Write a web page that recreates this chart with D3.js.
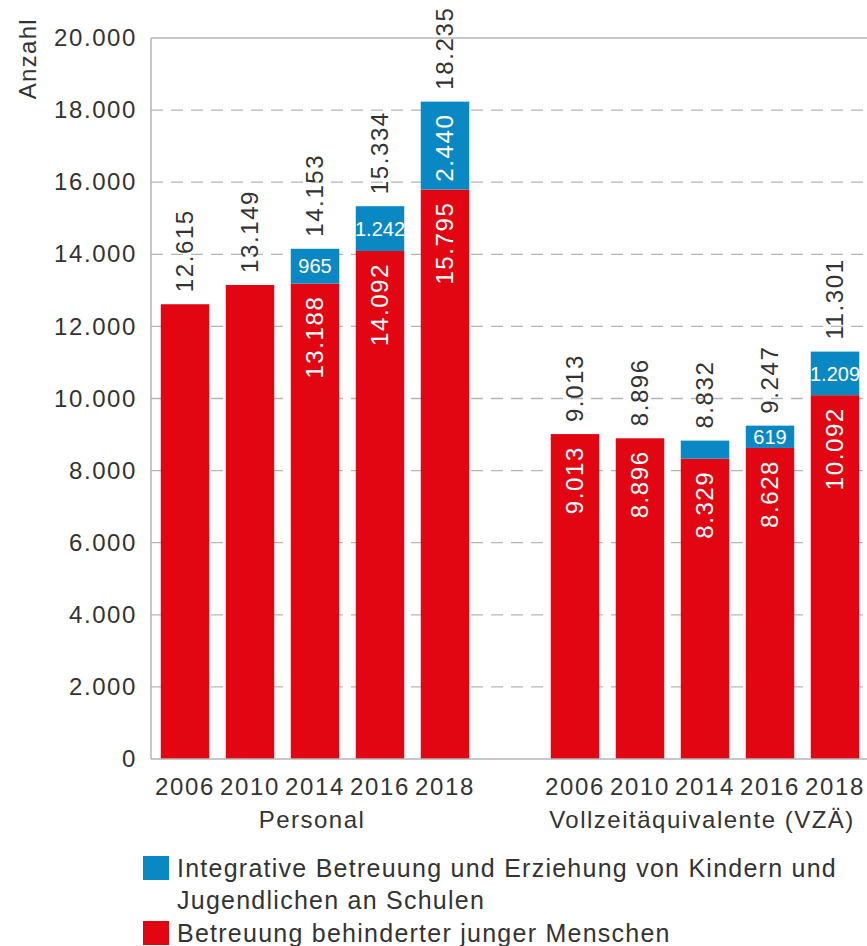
<!DOCTYPE html>
<html><head><meta charset="utf-8">
<script src="https://cdn.jsdelivr.net/npm/d3@7"></script>
<style>
html,body{margin:0;padding:0;background:#fff;}
svg text{font-family:"Liberation Sans",Arial,Helvetica,sans-serif;}
</style></head>
<body>
<svg id="chart" width="867" height="946"></svg>
<script>
// ---- data ----
const groups = ["Personal", "Vollzeitäquivalente (VZÄ)"];
const years = ["2006", "2010", "2014", "2016", "2018"];
const redPersonal = [12615, 13149, 13188, 14092, 15795];
const bluePersonal = [0, 0, 965, 1242, 2440];
const totalPersonal = [12615, 13149, 14153, 15334, 18235];
const redVZA = [9013, 8896, 8329, 8628, 10092];
const blueVZA = [0, 0, 503, 619, 1209];
const totalVZA = [9013, 8896, 8832, 9247, 11301];
const showRedLabelPersonal = [false, false, true, true, true];
const showRedLabelVZA = [true, true, true, true, true];
const showBlueLabelPersonal = [false, false, true, true, true];
const showBlueLabelVZA = [false, false, false, true, true];
const yTicks = [0, 2000, 4000, 6000, 8000, 10000, 12000, 14000, 16000, 18000, 20000];
const seriesNames = ["Integrative Betreuung und Erziehung von Kindern und", "Jugendlichen an Schulen", "Betreuung behinderter junger Menschen"];
const yTitle = "Anzahl";

const RED = "#e20613", BLUE = "#0a88c4", TXT = "#333", GRID = "#b5b5b5";

const de = d3.formatLocale({decimal: ",", thousands: ".", grouping: [3], currency: ["", "€"]});
const fmt = de.format(",d");

const rows = [];
const groupData = [
  {name: groups[0], red: redPersonal, blue: bluePersonal, total: totalPersonal, sr: showRedLabelPersonal, sb: showBlueLabelPersonal},
  {name: groups[1], red: redVZA, blue: blueVZA, total: totalVZA, sr: showRedLabelVZA, sb: showBlueLabelVZA}
];
const domain = [];
groupData.forEach((g, gi) => {
  years.forEach((y, i) => {
    const key = g.name + "|" + y;
    domain.push(key);
    rows.push({key, group: g.name, year: y, red: g.red[i], blue: g.blue[i], total: g.total[i], sr: g.sr[i], sb: g.sb[i]});
  });
  if (gi < groupData.length - 1) domain.push("gap" + gi);
});

const svg = d3.select("#chart");
const x = d3.scaleBand().domain(domain).range([152.5, 867.5]).paddingInner(0.254).paddingOuter(0.127);
const y = d3.scaleLinear().domain([0, 20000]).range([759, 38]);
const LS = "1.6px";

// gridlines
svg.append("g").selectAll("line").data(yTicks.filter(t => t > 0 && t < 20000)).join("line")
  .attr("x1", 151).attr("x2", 867).attr("y1", d => y(d)).attr("y2", d => y(d))
  .attr("stroke", GRID).attr("stroke-width", 1.3).attr("stroke-dasharray", "12,8");
// top line
svg.append("line").attr("x1", 151).attr("x2", 867).attr("y1", y(20000)).attr("y2", y(20000))
  .attr("stroke", GRID).attr("stroke-width", 1.3);

// y axis labels
const yAxis = d3.axisLeft(y).tickValues(yTicks).tickSize(0).tickPadding(14).tickFormat(fmt);
const ga = svg.append("g").attr("transform", "translate(151,0)").call(yAxis);
ga.select(".domain").remove();
ga.selectAll("text").attr("font-size", 24).attr("fill", TXT).style("letter-spacing", LS)
  .attr("font-family", "Liberation Sans, Arial, sans-serif");

// y title
svg.append("text").attr("transform", `translate(36,${18}) rotate(-90)`).attr("text-anchor", "end")
  .attr("font-size", 24).attr("fill", TXT).style("letter-spacing", "1.3px").text(yTitle);

// bars
const bars = svg.append("g");
bars.selectAll("rect.red").data(rows).join("rect").attr("class", "red")
  .attr("x", d => x(d.key)).attr("width", x.bandwidth())
  .attr("y", d => y(d.red)).attr("height", d => y(0) - y(d.red)).attr("fill", RED);
bars.selectAll("rect.blue").data(rows.filter(d => d.blue > 0)).join("rect").attr("class", "blue")
  .attr("x", d => x(d.key)).attr("width", x.bandwidth())
  .attr("y", d => y(d.red + d.blue)).attr("height", d => y(d.red) - y(d.red + d.blue)).attr("fill", BLUE);

// axis lines (left & bottom)
svg.append("line").attr("x1", 151).attr("x2", 151).attr("y1", y(20000)).attr("y2", y(0))
  .attr("stroke", GRID).attr("stroke-width", 1.5);
svg.append("line").attr("x1", 151).attr("x2", 867).attr("y1", y(0)).attr("y2", y(0))
  .attr("stroke", GRID).attr("stroke-width", 1.5);

const cx = d => x(d.key) + x.bandwidth() / 2;

// total labels
svg.append("g").selectAll("text").data(rows).join("text")
  .attr("transform", d => `translate(${cx(d)},${y(d.total) - 12}) rotate(-90)`)
  .attr("dy", "0.35em").attr("text-anchor", "start").attr("font-size", 24).attr("fill", TXT)
  .style("letter-spacing", LS).text(d => fmt(d.total));

// red inner labels
svg.append("g").selectAll("text").data(rows.filter(d => d.sr)).join("text")
  .attr("transform", d => `translate(${cx(d)},${y(d.red) + 12}) rotate(-90)`)
  .attr("dy", "0.35em").attr("text-anchor", "end").attr("font-size", 24).attr("fill", "#fff")
  .style("letter-spacing", LS).text(d => fmt(d.red));

// blue inner labels
const bl = rows.filter(d => d.sb);
svg.append("g").selectAll("text").data(bl).join("text")
  .each(function(d) {
    const h = y(d.red) - y(d.red + d.blue);
    const t = d3.select(this).attr("fill", "#fff").text(fmt(d.blue));
    if (h > 80) {
      t.attr("transform", `translate(${cx(d)},${y(d.red + d.blue) + 12}) rotate(-90)`)
        .attr("dy", "0.35em").attr("text-anchor", "end").attr("font-size", 24).style("letter-spacing", LS);
    } else {
      t.attr("x", cx(d)).attr("y", (y(d.red) + y(d.red + d.blue)) / 2).attr("dy", "0.36em")
        .attr("text-anchor", "middle").attr("font-size", 20);
    }
  });

// x labels: years
svg.append("g").selectAll("text").data(rows).join("text")
  .attr("x", d => cx(d)).attr("y", 795).attr("text-anchor", "middle").attr("font-size", 24)
  .attr("fill", TXT).style("letter-spacing", LS).text(d => d.year);

// group labels
svg.append("g").selectAll("text").data(groupData).join("text")
  .attr("x", g => {
    const ks = years.map(yy => g.name + "|" + yy);
    return (x(ks[0]) + x(ks[ks.length - 1]) + x.bandwidth()) / 2 - 3;
  })
  .attr("y", 828).attr("text-anchor", "middle").attr("font-size", 24).attr("fill", TXT)
  .style("letter-spacing", "1.5px").text(g => g.name);

// legend
const lg = svg.append("g");
lg.append("rect").attr("x", 143).attr("y", 856).attr("width", 26).attr("height", 24).attr("fill", BLUE);
lg.append("rect").attr("x", 143).attr("y", 921).attr("width", 26).attr("height", 24).attr("fill", RED);
lg.selectAll("text").data(seriesNames).join("text")
  .attr("x", 177).attr("y", (d, i) => [877, 909, 942][i]).attr("font-size", 25).attr("fill", TXT)
  .style("letter-spacing", "1.25px").text(d => d);
</script>
</body></html>
